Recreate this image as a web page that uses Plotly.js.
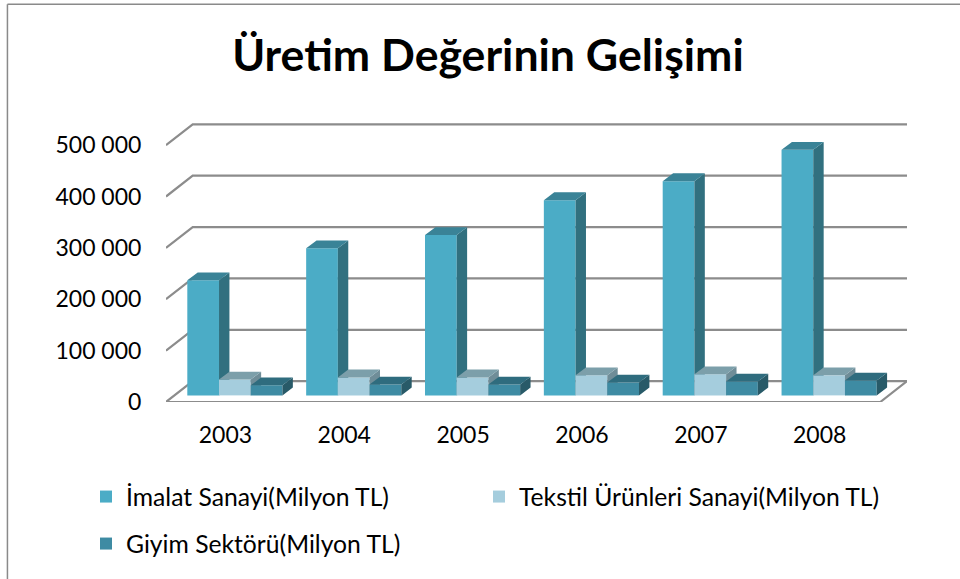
<!DOCTYPE html>
<html><head><meta charset="utf-8">
<script src="https://cdn.plot.ly/plotly-3.0.1.min.js"></script>
<style>html,body{margin:0;padding:0;background:#fff}#c{width:960px;height:579px}</style>
</head><body><div id="c"></div>
<script>
const years = ['2003','2004','2005','2006','2007','2008'];
const imalat = [224000, 286500, 312000, 380000, 417000, 478000];
const tekstil = [31000, 35000, 35000, 39000, 41000, 39000];
const giyim = [19500, 21000, 21000, 25000, 27000, 29000];
const yTicks = [0, 100000, 200000, 300000, 400000, 500000];
const yTickText = ['0', '100 000', '200 000', '300 000', '400 000', '500 000'];
const names = ['İmalat Sanayi(Milyon TL)', 'Tekstil Ürünleri Sanayi(Milyon TL)', 'Giyim Sektörü(Milyon TL)'];
const frontColors = ['#4BACC6', '#A5CDDD', '#3E8BA3'];
const sideColors = ['#31707F', '#6F8D98', '#285A68'];
const topColors = ['#3A8397', '#7C9FAA', '#2F6C7E'];

const W = 960, H = 579, L = 166, R = 906.7, T = 123, B = 401.6;
const pxX = 118.8, pxY = 51.3 / 100000;
const xRange = [-0.5, -0.5 + (R - L) / pxX];
const yRange = [0, (B - T) / pxY];
const wallDX = 26.7 / pxX, wallDY = 20.8 / pxY;
const depthDX = 10.4 / pxX, depthDY = 7.8 / pxY;
const barW = 31.7 / pxX, groupStart = (187.3 - 225.4) / pxX, barBase = 6.6 / pxY;
const xs = years.map((_, i) => i);

// back wall, left wall and floor lines
const floorEnd = xRange[1] - wallDX;
const gx = [], gy = [];
yTicks.forEach(v => {
  gx.push(-0.5, -0.5 + wallDX, xRange[1], null);
  gy.push(v, v + wallDY, v + wallDY, null);
});
gx.push(-0.5, floorEnd, xRange[1], null);
gy.push(0, 0, wallDY, null);

const traces = [{
  x: gx, y: gy, mode: 'lines', line: {color: '#8C8C8C', width: 2.2},
  showlegend: false, hoverinfo: 'skip', xaxis: 'x', yaxis: 'y'
}];

const legendIds = ['legend', 'legend2', 'legend3'];
[imalat, tekstil, giyim].forEach((vals, s) => {
  const ax = s + 2;
  const xa = 'x' + ax, ya = 'y' + ax;
  const left = i => i + groupStart + s * barW;
  traces.push({
    type: 'bar', x: xs, y: vals, base: barBase, width: barW,
    offset: groupStart + s * barW, marker: {color: frontColors[s], line: {width: 0}},
    name: names[s], xaxis: xa, yaxis: ya, legend: legendIds[s]
  });
  const sx = [], sy = [], tx = [], ty = [];
  vals.forEach((v, i) => {
    const a = left(i) + barW, top = barBase + v;
    sx.push(a, a + depthDX, a + depthDX, a, a, null);
    sy.push(barBase, barBase + depthDY, top + depthDY, top, barBase, null);
    tx.push(a - barW, a - barW + depthDX, a + depthDX, a, a - barW, null);
    ty.push(top, top + depthDY, top + depthDY, top, top, null);
  });
  traces.push({x: sx, y: sy, mode: 'lines', fill: 'toself', fillcolor: sideColors[s], line: {width: 0},
    showlegend: false, hoverinfo: 'skip', xaxis: xa, yaxis: ya});
  traces.push({x: tx, y: ty, mode: 'lines', fill: 'toself', fillcolor: topColors[s], line: {width: 0},
    showlegend: false, hoverinfo: 'skip', xaxis: xa, yaxis: ya});
});

const hiddenX = {overlaying: 'x', range: xRange, visible: false, fixedrange: true};
const hiddenY = {overlaying: 'y', range: yRange, visible: false, fixedrange: true};
const font = 'Lato, Carlito, sans-serif';
const legendBase = {
  orientation: 'h', xref: 'container', yref: 'container', xanchor: 'left', yanchor: 'middle',
  font: {family: font, size: 24.7, color: '#000'}, bgcolor: 'rgba(0,0,0,0)',
  itemclick: false, itemdoubleclick: false, borderwidth: 0, itemwidth: 30
};
const layout = {
  width: W, height: H, margin: {l: L, r: W - R, t: T, b: H - B},
  paper_bgcolor: '#fff', plot_bgcolor: 'rgba(0,0,0,0)', showlegend: true, hovermode: false,
  title: {text: '<b>Üretim Değerinin Gelişimi</b>', font: {family: font, size: 44.6, color: '#000'},
    x: 488 / W, xanchor: 'center', y: 1 - 55 / H, yanchor: 'middle', xref: 'container', yref: 'container'},
  xaxis: {range: xRange, tickmode: 'array', tickvals: xs, ticktext: years, showgrid: false, zeroline: false,
    showline: false, ticks: 'outside', ticklen: 12, tickcolor: 'rgba(0,0,0,0)',
    tickfont: {family: font, size: 23, color: '#000'}, fixedrange: true},
  yaxis: {range: yRange, tickmode: 'array', tickvals: yTicks, ticktext: yTickText, showgrid: false, zeroline: false,
    showline: false, ticks: 'outside', ticklen: 19, tickcolor: 'rgba(0,0,0,0)',
    tickfont: {family: font, size: 23, color: '#000'}, fixedrange: true},
  xaxis2: hiddenX, yaxis2: hiddenY, xaxis3: hiddenX, yaxis3: hiddenY, xaxis4: hiddenX, yaxis4: hiddenY,
  legend: Object.assign({}, legendBase, {x: 86 / W, y: 1 - 497 / H}),
  legend2: Object.assign({}, legendBase, {x: 479 / W, y: 1 - 497 / H}),
  legend3: Object.assign({}, legendBase, {x: 86 / W, y: 1 - 544 / H}),
  shapes: [
    {type: 'line', xref: 'paper', yref: 'paper', layer: 'below',
     x0: (7.5 - L) / (R - L), x1: (7.5 - L) / (R - L), y0: (B - 4.5) / (B - T), y1: (B - H) / (B - T),
     line: {color: '#8A8A8A', width: 1.5}},
    {type: 'line', xref: 'paper', yref: 'paper', layer: 'below',
     x0: (7.5 - L) / (R - L), x1: (W - L) / (R - L), y0: (B - 4.5) / (B - T), y1: (B - 4.5) / (B - T),
     line: {color: '#8A8A8A', width: 1.5}}
  ]
};
Plotly.newPlot('c', traces, layout, {staticPlot: true, displayModeBar: false});
</script></body></html>
